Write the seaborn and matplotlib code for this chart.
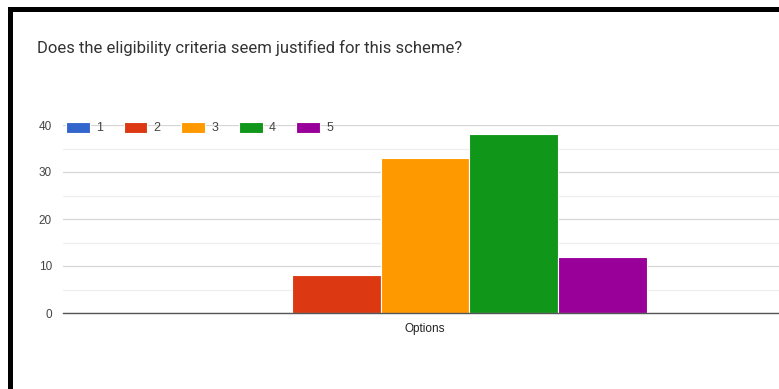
import matplotlib
matplotlib.use("Agg")
import matplotlib.pyplot as plt
from matplotlib.patches import Rectangle
import seaborn as sns
import pandas as pd

# Survey responses for one question, rated 1-5
question = "Does the eligibility criteria seem justified for this scheme?"
category = ["Options"]
ratings = ["1", "2", "3", "4", "5"]
counts = [0, 8, 33, 38, 12]
y_ticks = [0, 10, 20, 30, 40]

palette = ["#3366cc", "#dc3912", "#ff9900", "#109618", "#990099"]

df = pd.DataFrame({
    "category": category * len(ratings),
    "rating": ratings,
    "count": counts,
})

sns.set_theme(style="white")
plt.rcParams["font.family"] = ["Roboto", "DejaVu Sans"]

W, H = 779, 389
fig = plt.figure(figsize=(W / 100, H / 100), dpi=100)
fig.patch.set_facecolor("white")

ax = fig.add_axes([63 / W, 1 - 313 / H, 724 / W, 188 / H])
sns.barplot(data=df, x="category", y="count", hue="rating",
            palette=palette, width=0.613, edgecolor="white",
            linewidth=0.8, saturation=1, ax=ax)

ax.set_ylim(0, 40)
ax.set_xlim(-0.5, 0.5)
ax.set_yticks(y_ticks)
ax.set_yticks([5, 15, 25, 35], minor=True)
ax.grid(axis="y", which="major", color="#d6d6d6", linewidth=0.9)
ax.grid(axis="y", which="minor", color="#eeeeee", linewidth=0.9)
ax.set_axisbelow(True)
for side in ["top", "right", "left"]:
    ax.spines[side].set_visible(False)
ax.spines["bottom"].set_color("#555555")
ax.spines["bottom"].set_linewidth(1.0)
ax.tick_params(axis="y", length=0, pad=8, labelsize=8.5, labelcolor="#444444")
ax.tick_params(axis="x", length=0, pad=7, labelsize=8.5, labelcolor="#222222")
for lab in ax.get_yticklabels() + ax.get_xticklabels():
    lab.set_family(["Liberation Sans", "DejaVu Sans"])
ax.set_xlabel("")
ax.set_ylabel("")

handles, labels = ax.get_legend_handles_labels()
if ax.legend_:
    ax.legend_.remove()
leg = fig.legend(handles, labels, loc="center left",
                 bbox_to_anchor=(66 / W, 1 - 128 / H), ncol=5,
                 frameon=False, fontsize=9, borderpad=0, borderaxespad=0,
                 handlelength=1.9, handleheight=1.0, handletextpad=0.5,
                 columnspacing=1.65)
for t in leg.get_texts():
    t.set_color("#444444")
    t.set_family(["Liberation Sans", "DejaVu Sans"])

fig.text(37 / W, 1 - 48 / H, question, fontsize=12, color="#333333",
         ha="left", va="center")

# Card frame, open to the right and bottom
fig.patches.append(Rectangle((9.5 / W, -0.2), 1.2, 1 - 9.5 / H + 0.2,
                             transform=fig.transFigure, fill=False,
                             edgecolor="black", linewidth=3.6))

fig.savefig("out.png", dpi=100, facecolor="white")
